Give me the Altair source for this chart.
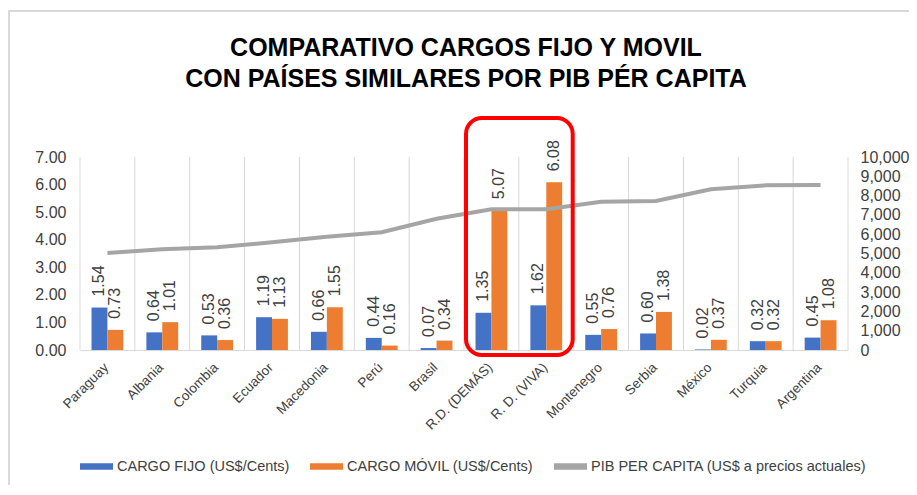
import altair as alt
import pandas as pd

paises = ["Paraguay", "Albania", "Colombia", "Ecuador", "Macedonia", "Perú", "Brasil",
          "R.D. (DEMÁS)", "R. D. (VIVA)", "Montenegro", "Serbia", "México", "Turquia", "Argentina"]
cargo_fijo = [1.54, 0.64, 0.53, 1.19, 0.66, 0.44, 0.07, 1.35, 1.62, 0.55, 0.60, 0.02, 0.32, 0.45]
cargo_movil = [0.73, 1.01, 0.36, 1.13, 1.55, 0.16, 0.34, 5.07, 6.08, 0.76, 1.38, 0.37, 0.32, 1.08]
pib = [5030, 5220, 5320, 5580, 5870, 6100, 6800, 7290, 7290, 7680, 7720, 8330, 8530, 8550]

titulo = ["COMPARATIVO  CARGOS FIJO Y MOVIL", "CON PAÍSES SIMILARES POR PIB PÉR CAPITA"]
S_FIJO = "CARGO FIJO (US$/Cents)"
S_MOVIL = "CARGO MÓVIL (US$/Cents)"
S_PIB = "PIB PER CAPITA (US$ a precios actuales)"
destacados = ["R.D. (DEMÁS)", "R. D. (VIVA)"]

W, H = 768, 193
STEP = W / len(paises)
FONT = "Liberation Sans"
TXT = "#404040"

rows = []
for p, f, m in zip(paises, cargo_fijo, cargo_movil):
    rows.append({"pais": p, "serie": S_FIJO, "valor": f})
    rows.append({"pais": p, "serie": S_MOVIL, "valor": m})
bars_df = pd.DataFrame(rows)
line_df = pd.DataFrame({"pais": paises, "pib": pib})
grid_df = pd.DataFrame({"pais": paises})

x_enc = alt.X("pais:N", sort=paises, scale=alt.Scale(paddingInner=0, paddingOuter=0),
              axis=alt.Axis(title=None, labelAngle=-45, labelFontSize=13.5, labelColor=TXT,
                            ticks=False, grid=False, domainColor="#d9d9d9", domainWidth=1,
                            labelPadding=15, labelOffset=-1, labelFont=FONT))
xoff = alt.XOffset("serie:N", sort=[S_FIJO, S_MOVIL],
                   scale=alt.Scale(domain=[S_FIJO, S_MOVIL], paddingInner=0, paddingOuter=0.725))

color = alt.Color("serie:N",
                  scale=alt.Scale(domain=[S_FIJO, S_MOVIL, S_PIB],
                                  range=["#4472C4", "#ED7D31", "#A5A5A5"]),
                  legend=alt.Legend(title=None, orient="none", direction="horizontal",
                                    legendX=0, legendY=293, columns=3,
                                    symbolType="M-1,-0.2H1V0.2H-1Z", symbolSize=1089,
                                    symbolStrokeWidth=0, labelFontSize=14.5, labelColor=TXT,
                                    labelFont=FONT, columnPadding=20, labelOffset=4,
                                    labelLimit=400))

grid = alt.Chart(grid_df).mark_rule(color="#d9d9d9", strokeWidth=1).encode(
    x=alt.X("pais:N", sort=paises, bandPosition=0),
    y=alt.value(0), y2=alt.value(H))
grid_end = alt.Chart(grid_df.tail(1)).mark_rule(color="#d9d9d9", strokeWidth=1).encode(
    x=alt.X("pais:N", sort=paises, bandPosition=1),
    y=alt.value(0), y2=alt.value(H))

bars = alt.Chart(bars_df).mark_bar().encode(
    x=x_enc,
    xOffset=xoff,
    y=alt.Y("valor:Q", scale=alt.Scale(domain=[0, 7]),
            axis=alt.Axis(title=None, orient="left", values=[0, 1, 2, 3, 4, 5, 6, 7],
                          format=".2f", grid=False, domain=False, ticks=False,
                          labelFontSize=16, labelColor=TXT, labelPadding=14, labelFont=FONT)),
    color=color)

labels = alt.Chart(bars_df).mark_text(angle=270, align="left", baseline="middle", dx=11,
                                      fontSize=16, font=FONT, color=TXT).encode(
    x=alt.X("pais:N", sort=paises),
    xOffset=xoff,
    y=alt.Y("valor:Q", scale=alt.Scale(domain=[0, 7]), axis=None),
    text=alt.Text("valor:Q", format=".2f"))

line = alt.Chart(line_df).mark_line(color="#A5A5A5", strokeWidth=4).encode(
    x=alt.X("pais:N", sort=paises),
    y=alt.Y("pib:Q", scale=alt.Scale(domain=[0, 10000]),
            axis=alt.Axis(title=None, orient="right", values=list(range(0, 10001, 1000)),
                          format=",.0f", grid=False, domain=False, ticks=False,
                          labelFontSize=16, labelColor=TXT, labelPadding=12, labelFont=FONT)))

i0 = paises.index(destacados[0])
i1 = paises.index(destacados[1])
box = alt.Chart(pd.DataFrame({"k": [0]})).mark_rect(
    fill="transparent", stroke="#FF0000", strokeWidth=4, cornerRadius=16).encode(
    x=alt.value(i0 * STEP + 2), x2=alt.value((i1 + 1) * STEP - 1),
    y=alt.value(-39), y2=alt.value(198))

frame = alt.Chart(pd.DataFrame({"k": [0]})).mark_rect(
    fill="transparent", stroke="#d9d9d9", strokeWidth=2).encode(
    x=alt.value(-71), x2=alt.value(W + 200), y=alt.value(-146), y2=alt.value(H + 300))

title = alt.Chart(pd.DataFrame({"t": ["\n".join(titulo)]})).mark_text(
    fontSize=25, font=FONT, fontWeight="bold", color="#000000", lineBreak="\n",
    lineHeight=31, align="center", baseline="alphabetic").encode(
    x=alt.value(386), y=alt.value(-101), text="t:N")

chart = alt.layer(frame, grid, grid_end, bars, labels, line, box, title).resolve_scale(
    y="independent"
).properties(
    width=W, height=H,
    autosize=alt.AutoSizeParams(type="none"),
    padding={"left": 72, "top": 149, "right": 61, "bottom": 135},
    background="white",
).configure_view(strokeWidth=0)

chart.save("out.html", embed_options={"renderer": "svg", "actions": False})
